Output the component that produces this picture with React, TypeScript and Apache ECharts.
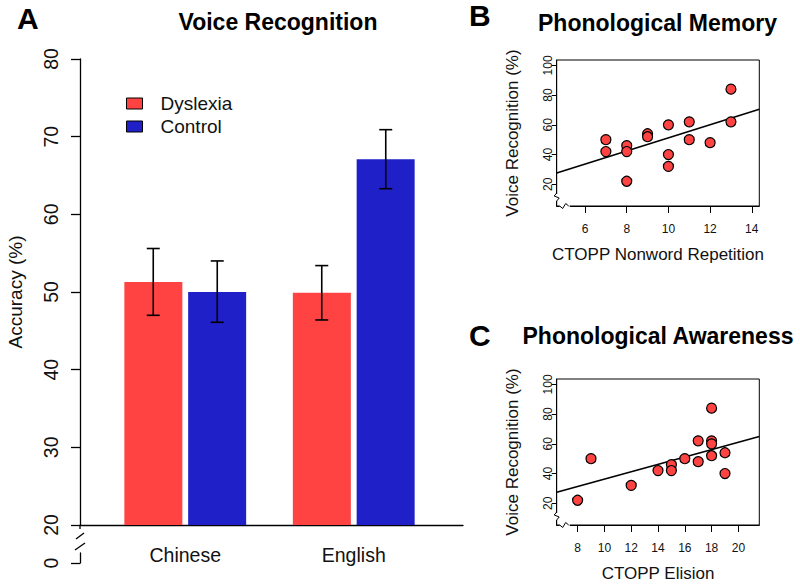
import React, { useEffect, useRef } from 'react';
import * as echarts from 'echarts';

// ---------- Panel A: Voice Recognition ----------
const categories = ['Chinese', 'English'];
const groupNames = ['Dyslexia', 'Control'];
const dyslexiaMeans = [51.3, 49.9];
const controlMeans = [50.0, 67.1];
const dyslexiaLow = [47.0, 46.4];
const dyslexiaHigh = [55.6, 53.4];
const controlLow = [46.1, 63.3];
const controlHigh = [54.0, 70.9];
const accuracyTicks = [20, 30, 40, 50, 60, 70, 80];
const brokenTicks = [0];

// ---------- Panel B: Phonological Memory ----------
const nonwordRepetition = [7, 7, 8, 8, 8, 9, 9, 10, 10, 10, 11, 11, 12, 13, 13];
const nonwordVoice = [50, 42, 46, 42, 22, 54, 52, 60, 40, 32, 62, 50, 48, 84, 62];
const nonwordFitX = [4.64, 14.36];
const nonwordFitY = [27.5, 70.5];
const nonwordTicks = [6, 8, 10, 12, 14];

// ---------- Panel C: Phonological Awareness ----------
const elisionScore = [9, 8, 12, 14, 15, 15, 16, 17, 17, 18, 18, 18, 18, 19, 19];
const elisionVoice = [50, 22, 32, 42, 46, 42, 50, 62, 48, 84, 62, 60, 52, 54, 40];
const elisionFitX = [6.44, 21.56];
const elisionFitY = [27.4, 65.0];
const elisionTicks = [8, 10, 12, 14, 16, 18, 20];

const voiceTicks = [20, 40, 60, 80, 100];

const RED = '#FF4343';
const BLUE = '#2020C8';
const INK = '#111';
const FONT = '"Liberation Sans", Arial, Helvetica, sans-serif';

function zip(a: number[], b: number[]) {
  return a.map((v, i) => [v, b[i]]);
}

function errorSeries(low: number[], high: number[], offset: number) {
  return {
    type: 'custom',
    xAxisIndex: 1,
    yAxisIndex: 1,
    z: 5,
    silent: true,
    encode: { x: 0, y: [1, 2] },
    data: low.map((l, i) => [i, l, high[i]]),
    renderItem: (_params: any, api: any) => {
      const idx = api.value(0);
      const pLo = api.coord([idx, api.value(1)]);
      const pHi = api.coord([idx, api.value(2)]);
      const cx = pLo[0] + offset;
      const st = { stroke: '#000', lineWidth: 1.6 };
      return {
        type: 'group',
        children: [
          { type: 'line', shape: { x1: cx, y1: pHi[1], x2: cx, y2: pLo[1] }, style: st },
          { type: 'line', shape: { x1: cx - 6.5, y1: pHi[1], x2: cx + 6.5, y2: pHi[1] }, style: st },
          { type: 'line', shape: { x1: cx - 6.5, y1: pLo[1], x2: cx + 6.5, y2: pLo[1] }, style: st },
        ],
      };
    },
  };
}

function scatterAxes(grid: number, xMin: number, xMax: number, ticks: number[], name: string) {
  const x = {
    gridIndex: grid,
    type: 'value',
    min: xMin,
    max: xMax,
    name,
    nameLocation: 'middle',
    nameGap: 40,
    nameTextStyle: { fontSize: 17, color: INK, fontFamily: FONT },
    axisLine: { show: true, lineStyle: { color: '#000', width: 1 } },
    axisTick: { show: true, customValues: ticks, length: 7, lineStyle: { color: '#000', width: 1 } },
    axisLabel: { customValues: ticks, fontSize: 12, color: INK, margin: 17, fontFamily: FONT },
    splitLine: { show: false },
  };
  const y = {
    gridIndex: grid,
    type: 'value',
    min: 5.36,
    max: 103.64,
    name: 'Voice Recognition (%)',
    nameLocation: 'middle',
    nameGap: 36,
    nameTextStyle: { fontSize: 17, color: INK, fontFamily: FONT },
    axisLine: { show: true, lineStyle: { color: '#000', width: 1 } },
    axisTick: { show: true, customValues: voiceTicks, length: 5, lineStyle: { color: '#000', width: 1 } },
    axisLabel: { customValues: voiceTicks, fontSize: 12, rotate: 90, color: INK, margin: 3, fontFamily: FONT },
    splitLine: { show: false },
  };
  return { x, y };
}

function breakMarks(top: number) {
  const left = 556.7;
  const bottom = top + 146;
  const st = { stroke: '#000', lineWidth: 1, fill: 'none' };
  return [
    { type: 'rect', shape: { x: left - 2, y: bottom - 12, width: 4, height: 7 }, style: { fill: '#fff' }, z: 100 },
    { type: 'rect', shape: { x: left + 3, y: bottom - 2, width: 10, height: 4 }, style: { fill: '#fff' }, z: 100 },
    {
      type: 'polyline',
      shape: { points: [[left, bottom - 13], [left - 2.5, bottom - 10], [left + 2.5, bottom - 8], [left, bottom - 5]] },
      style: st,
      z: 101,
    },
    {
      type: 'polyline',
      shape: { points: [[left + 3, bottom], [left + 6, bottom + 2.5], [left + 9, bottom - 2.5], [left + 12, bottom]] },
      style: st,
      z: 101,
    },
  ];
}

export default function App() {
  const ref = useRef<HTMLDivElement>(null);

  useEffect(() => {
    if (!ref.current) return;
    const chart = echarts.init(ref.current, undefined, { renderer: 'svg' });

    const b = scatterAxes(3, 4.64, 14.36, nonwordTicks, 'CTOPP Nonword Repetition');
    const c = scatterAxes(4, 6.44, 21.56, elisionTicks, 'CTOPP Elision');

    const titleStyle = { fontSize: 23, fontWeight: 'bold', color: '#000', fontFamily: FONT };
    const letterStyle = { fontSize: 30, fontWeight: 'bold', color: '#000', fontFamily: FONT };

    chart.setOption({
      animation: false,
      textStyle: { fontFamily: FONT },
      title: [
        { text: 'A', left: 17, top: 3, padding: 0, textStyle: letterStyle },
        { text: 'Voice Recognition', left: 278, top: 10, textAlign: 'center', padding: 0, textStyle: titleStyle },
        { text: 'B', left: 469, top: 0, padding: 0, textStyle: letterStyle },
        { text: 'Phonological Memory', left: 657.5, top: 11, textAlign: 'center', padding: 0, textStyle: titleStyle },
        { text: 'C', left: 469, top: 320, padding: 0, textStyle: letterStyle },
        { text: 'Phonological Awareness', left: 658, top: 324.5, textAlign: 'center', padding: 0, textStyle: titleStyle },
      ],
      legend: {
        data: [
          { name: groupNames[0], itemStyle: { borderColor: '#000', borderWidth: 1 } },
          { name: groupNames[1], itemStyle: { borderColor: '#000', borderWidth: 1 } },
        ],
        orient: 'vertical',
        left: 126,
        top: 94,
        padding: 0,
        icon: 'rect',
        itemWidth: 16,
        itemHeight: 11,
        itemGap: 4,
        selectedMode: false,
        textStyle: { fontSize: 19, color: INK, padding: [0, 0, 0, 13], fontFamily: FONT },
      },
      grid: [
        { left: 80, top: 59, width: 383, height: 466 },
        { left: 101, top: 59, width: 337, height: 466 },
        { left: 80, top: 553, width: 383, height: 10 },
        { left: 556.7, top: 60, width: 202.6, height: 146, show: true, borderColor: '#000', borderWidth: 1, backgroundColor: 'transparent' },
        { left: 556.7, top: 379, width: 202.6, height: 146, show: true, borderColor: '#000', borderWidth: 1, backgroundColor: 'transparent' },
      ],
      xAxis: [
        {
          gridIndex: 0,
          type: 'value',
          min: 0,
          max: 1,
          axisLine: { show: true, lineStyle: { color: '#000', width: 1.3 } },
          axisTick: { show: false },
          axisLabel: { show: false },
          splitLine: { show: false },
        },
        {
          gridIndex: 1,
          type: 'category',
          data: categories,
          axisLine: { show: false },
          axisTick: { show: false },
          axisLabel: { fontSize: 19.5, color: INK, margin: 20, fontFamily: FONT },
        },
        { gridIndex: 2, type: 'value', show: false, min: 0, max: 1 },
        b.x,
        c.x,
      ],
      yAxis: [
        {
          gridIndex: 0,
          type: 'value',
          min: 20,
          max: 80,
          interval: 10,
          name: 'Accuracy (%)',
          nameLocation: 'middle',
          nameGap: 55,
          nameTextStyle: { fontSize: 19, color: INK, fontFamily: FONT },
          axisLine: { show: true, lineStyle: { color: '#000', width: 1.3 } },
          axisTick: { show: true, length: 9, lineStyle: { color: '#000', width: 1.3 } },
          axisLabel: { rotate: 90, fontSize: 19.5, color: INK, margin: 19, fontFamily: FONT, customValues: accuracyTicks },
          splitLine: { show: false },
        },
        { gridIndex: 1, type: 'value', min: 20, max: 80, show: false },
        {
          gridIndex: 2,
          type: 'value',
          min: 0,
          max: 1,
          axisLine: { show: true, lineStyle: { color: '#000', width: 1.3 } },
          axisTick: { show: true, length: 9, customValues: brokenTicks, lineStyle: { color: '#000', width: 1.3 } },
          axisLabel: { rotate: 90, fontSize: 19.5, color: INK, margin: 19, fontFamily: FONT, customValues: brokenTicks },
          splitLine: { show: false },
        },
        b.y,
        c.y,
      ],
      series: [
        {
          name: groupNames[0],
          type: 'bar',
          xAxisIndex: 1,
          yAxisIndex: 1,
          data: dyslexiaMeans,
          barWidth: 58,
          barGap: '10%',
          itemStyle: { color: RED },
        },
        {
          name: groupNames[1],
          type: 'bar',
          xAxisIndex: 1,
          yAxisIndex: 1,
          data: controlMeans,
          barWidth: 58,
          barGap: '10%',
          itemStyle: { color: BLUE },
        },
        errorSeries(dyslexiaLow, dyslexiaHigh, -32),
        errorSeries(controlLow, controlHigh, 32),
        {
          type: 'line',
          xAxisIndex: 3,
          yAxisIndex: 3,
          data: zip(nonwordFitX, nonwordFitY),
          symbol: 'none',
          lineStyle: { color: '#000', width: 1.6 },
          z: 3,
          silent: true,
        },
        {
          type: 'scatter',
          xAxisIndex: 3,
          yAxisIndex: 3,
          data: zip(nonwordRepetition, nonwordVoice),
          symbolSize: 10,
          itemStyle: { color: RED, borderColor: '#000', borderWidth: 1.2, opacity: 1 },
          z: 4,
        },
        {
          type: 'line',
          xAxisIndex: 4,
          yAxisIndex: 4,
          data: zip(elisionFitX, elisionFitY),
          symbol: 'none',
          lineStyle: { color: '#000', width: 1.6 },
          z: 3,
          silent: true,
        },
        {
          type: 'scatter',
          xAxisIndex: 4,
          yAxisIndex: 4,
          data: zip(elisionScore, elisionVoice),
          symbolSize: 10,
          itemStyle: { color: RED, borderColor: '#000', borderWidth: 1.2, opacity: 1 },
          z: 4,
        },
      ],
      graphic: [
        { type: 'line', shape: { x1: 80, y1: 525, x2: 80, y2: 529 }, style: { stroke: '#000', lineWidth: 1.3 } },
        { type: 'line', shape: { x1: 76, y1: 539, x2: 84, y2: 533 }, style: { stroke: '#000', lineWidth: 1.3 } },
        { type: 'line', shape: { x1: 75, y1: 550, x2: 85, y2: 543 }, style: { stroke: '#000', lineWidth: 1.3 } },
        ...breakMarks(60),
        ...breakMarks(379),
      ],
    });

    return () => chart.dispose();
  }, []);

  return (
    <div
      ref={ref}
      style={{ position: 'fixed', left: 0, top: 0, width: 800, height: 585, background: '#fff' }}
    />
  );
}
